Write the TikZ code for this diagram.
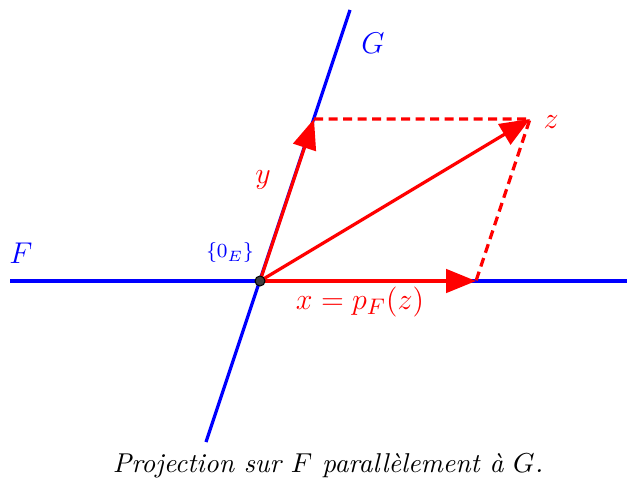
\documentclass[tikz,border=0pt]{standalone}
\usetikzlibrary{arrows.meta}
\begin{document}
\begin{tikzpicture}[x=0.4pt,y=-0.4pt,
  axis/.style={blue,line width=1.3pt},
  vec/.style={red,line width=1.3pt,-{Triangle[length=12pt,width=9.4pt]}},
  proj/.style={red,line width=1.3pt,dash pattern=on 3.6pt off 2.2pt},
  lab/.style={font=\fontsize{13}{15}\selectfont},
  ]
\useasboundingbox (0,0) rectangle (627,479);
\coordinate (O) at (260,281);
\coordinate (Gt) at (350,10);
\coordinate (Gb) at (206,442);
\coordinate (Fl) at (10,281);
\coordinate (Fr) at (627,281);
\coordinate (Y) at (314,119);
\coordinate (Z) at (530,119);
\coordinate (X) at (476,281);
\draw[axis] (Fl) -- (Fr);
\draw[axis] (Gb) -- (Gt);
\draw[proj] (Y) -- (Z) -- (X);
\draw[vec] (O) -- (Y);
\draw[vec] (O) -- (X);
\draw[vec] (O) -- (Z);
\node[circle,draw=black,fill=darkgray,inner sep=0pt,minimum size=4pt,line width=0.4pt] (o) at (O) {};
\node[lab,blue] (gl) at (373,43) {$G$};
\node[lab,blue] (fl) at (21,253) {$F$};
\node[lab,red] (zl) at (551,122) {$z$};
\node[lab,red] (yl) at (263,180) {$y$};
\node[lab,red] (xl) at (360,302) {$x=p_F(z)$};
\node[blue,font=\footnotesize] (ol) at (230,253) {$\{0_E\}$};
\node[font=\fontsize{10.9}{13}\selectfont] (cap) at (328,466) {\textit{Projection sur $F$ parallèlement à $G$.}};
\end{tikzpicture}
\end{document}
